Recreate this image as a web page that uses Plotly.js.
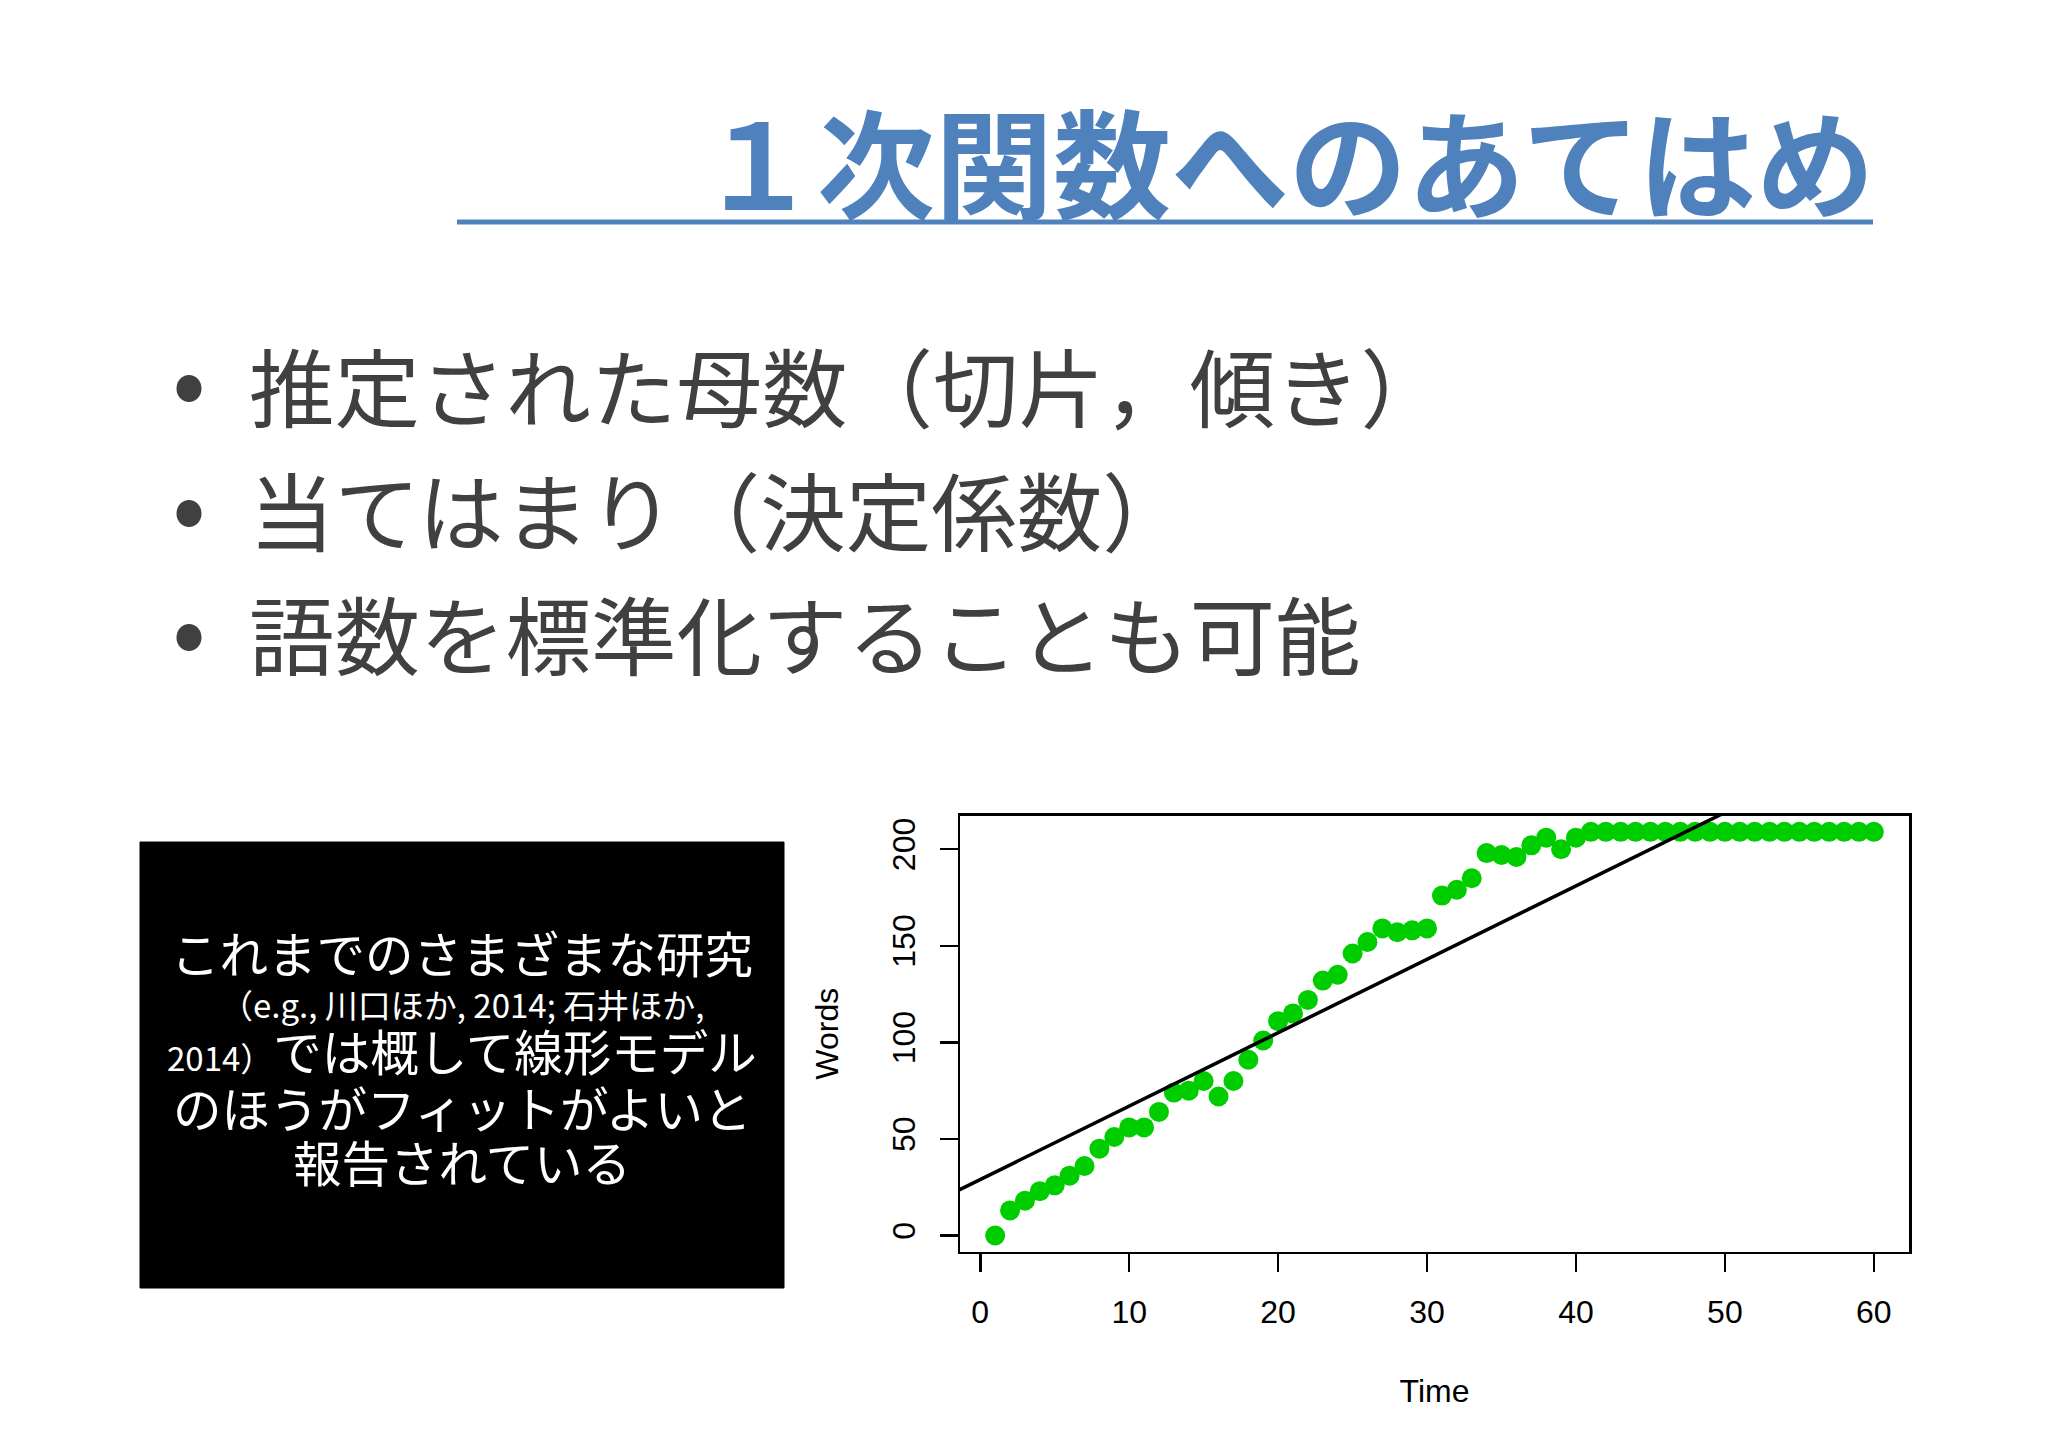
<!DOCTYPE html>
<html>
<head>
<meta charset="utf-8">
<script src="https://cdn.plot.ly/plotly-3.0.1.min.js"></script>
<style>
  html, body { margin: 0; padding: 0; background: #ffffff; }
  #chart { width: 2048px; height: 1447px; }
</style>
</head>
<body>
<div id="chart"></div>
<script>
// ---- data ----
const timePoints = [1,2,3,4,5,6,7,8,9,10,11,12,13,14,15,16,17,18,19,20,
                    21,22,23,24,25,26,27,28,29,30,31,32,33,34,35,36,37,38,39,40,
                    41,42,43,44,45,46,47,48,49,50,51,52,53,54,55,56,57,58,59,60];
const words = [0,13,18,23,26,31,36,45,51,56,56,64,74,75,80,72,80,91,101,111,
               115,122,132,135,146,152,159,157,158,159,176,179,185,198,197,196,202,206,200,206,
               209,209,209,209,209,209,209,209,209,209,209,209,209,209,209,209,209,209,209,209];
const fitCoef = [29.0, 3.80];          // intercept, slope of the fitted line
const xTicks = [0,10,20,30,40,50,60];
const yTicks = [0,50,100,150,200];

const slideTitle = "１次関数へのあてはめ";
const bulletLines = ["推定された母数（切片，傾き）", "当てはまり（決定係数）", "語数を標準化することも可能"];
const boxLines = [
  {big: "これまでのさまざまな研究", small: ""},
  {big: "", small: "（e.g., 川口ほか, 2014; 石井ほか,"},
  {big: "では概して線形モデル", small: "2014）"},
  {big: "のほうがフィットがよいと", small: ""},
  {big: "報告されている", small: ""}
];

// ---- helpers for page-pixel placement ----
const W = 2048, H = 1447;
const px = x => x / W;
const py = y => 1 - y / H;

const xRange = [-1.36, 62.36];
const yRange = [-8.36, 217.36];

const cjk = '"Noto Sans CJK JP", "Noto Sans", sans-serif';
const latin = '"Liberation Sans", Arial, sans-serif';

const lineX = [xRange[0] - 5, xRange[1] + 5];
const traces = [
  {
    x: timePoints, y: words, type: 'scatter', mode: 'markers',
    marker: {color: '#00CD00', size: 20},
    cliponaxis: true, hoverinfo: 'skip', showlegend: false
  },
  {
    x: lineX,
    y: lineX.map(v => fitCoef[0] + fitCoef[1] * v),
    type: 'scatter', mode: 'lines',
    line: {color: '#000000', width: 3.5},
    hoverinfo: 'skip', showlegend: false
  }
];

const annotations = [];
// title
annotations.push({
  xref: 'paper', yref: 'paper', x: px(1876), y: py(158), xanchor: 'right', yanchor: 'middle',
  text: '<b>' + slideTitle + '</b>', showarrow: false,
  font: {family: cjk, size: 118, color: '#4F81BD'}
});
// bullets
const bulletY = [384, 508, 632];
bulletLines.forEach((t, i) => {
  annotations.push({
    xref: 'paper', yref: 'paper', x: px(189), y: py(bulletY[i] - 9), xanchor: 'center', yanchor: 'middle',
    text: '•', showarrow: false, font: {family: cjk, size: 100, color: '#404040'}
  });
  annotations.push({
    xref: 'paper', yref: 'paper', x: px(247), y: py(bulletY[i]), xanchor: 'left', yanchor: 'middle',
    text: t, showarrow: false, font: {family: cjk, size: 85.5, color: '#404040'}
  });
});
// box text: one annotation per line, mixed sizes on the third line
const boxY = [952, 1004, 1050, 1107, 1161];
boxLines.forEach((l, i) => {
  let s = '';
  if (l.small) s += '<span style="font-size:33px">' + l.small + '</span>';
  if (l.big) s += l.small ? '<span style="font-size:48.5px">' + l.big + '</span>' : l.big;
  annotations.push({
    xref: 'paper', yref: 'paper', x: px(462), y: py(boxY[i]), xanchor: 'center', yanchor: 'middle',
    text: s, showarrow: false,
    font: {family: cjk, size: l.big ? 48.5 : 33, color: '#ffffff'}
  });
});

const shapes = [
  {type: 'line', xref: 'paper', yref: 'paper', x0: px(457), x1: px(1873), y0: py(222), y1: py(222),
   line: {color: '#4F81BD', width: 5}},
  {type: 'rect', xref: 'paper', yref: 'paper', x0: px(140), x1: px(784), y0: py(842), y1: py(1288),
   fillcolor: '#000000', line: {color: '#000000', width: 1}, layer: 'below'}
];

const layout = {
  width: W, height: H,
  margin: {l: 0, r: 0, t: 0, b: 0},
  paper_bgcolor: '#ffffff', plot_bgcolor: '#ffffff',
  showlegend: false,
  xaxis: {
    domain: [px(960), px(1909)], range: xRange, autorange: false,
    tickvals: xTicks, ticks: 'outside', ticklen: 18, tickwidth: 2.5, tickcolor: '#000',
    showline: true, mirror: true, linecolor: '#000', linewidth: 2.5,
    showgrid: false, zeroline: false,
    tickfont: {family: latin, size: 32, color: '#000'},
    ticklabelstandoff: 12,
    title: {text: 'Time', font: {family: latin, size: 32, color: '#000'}, standoff: 51}
  },
  yaxis: {
    domain: [1 - 1251.7 / H, 1 - 815.7 / H], range: yRange, autorange: false,
    tickvals: yTicks, ticks: 'outside', ticklen: 18, tickwidth: 2.5, tickcolor: '#000',
    tickangle: -90,
    showline: true, mirror: true, linecolor: '#000', linewidth: 2.5,
    showgrid: false, zeroline: false,
    tickfont: {family: latin, size: 32, color: '#000'},
    ticklabelstandoff: 12,
    title: {text: 'Words', font: {family: latin, size: 32, color: '#000'}, standoff: 38}
  },
  annotations: annotations,
  shapes: shapes
};

Plotly.newPlot('chart', traces, layout, {staticPlot: true, displayModeBar: false});
</script>
</body>
</html>
